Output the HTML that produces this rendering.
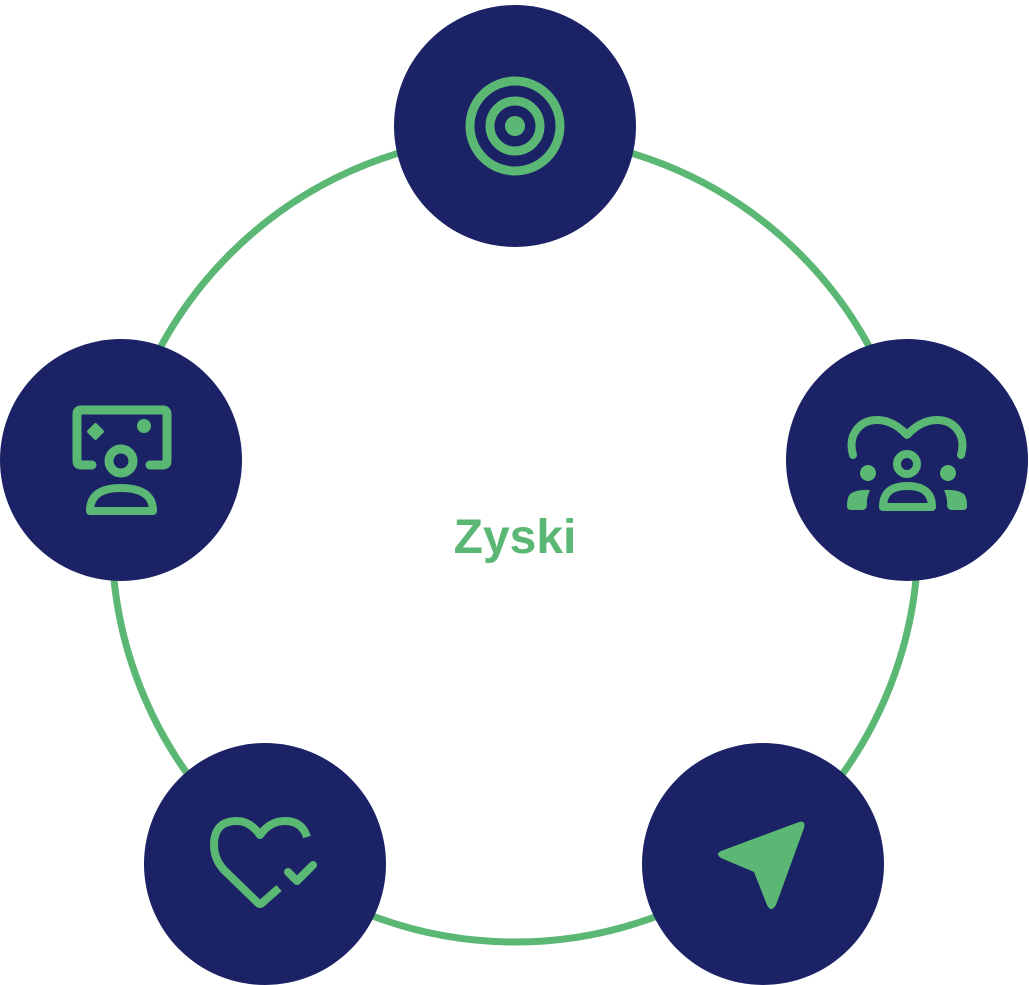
<!DOCTYPE html>
<html><head><meta charset="utf-8"><style>html,body{margin:0;padding:0;background:#fff;width:1029px;height:985px;overflow:hidden}</style></head>
<body>
<svg width="1029" height="985" viewBox="0 0 1029 985" xmlns="http://www.w3.org/2000/svg">
<circle cx="515" cy="539" r="403" fill="none" stroke="#5bb774" stroke-width="7"/>
<g fill="#1b2266">
<circle cx="515" cy="126" r="121"/>
<circle cx="907" cy="460" r="121"/>
<circle cx="763" cy="864" r="121"/>
<circle cx="265" cy="864" r="121"/>
<circle cx="121" cy="460" r="121"/>
</g>
<g fill="none" stroke="#5bb774" stroke-width="9" stroke-linecap="round" stroke-linejoin="round">
<circle cx="515" cy="126" r="45"/>
<circle cx="515" cy="126" r="25"/>
<path d="M92,465 L81,465 Q77,465 77,461 L77,414 Q77,410 81,410 L163,410 Q167,410 167,414 L167,461 Q167,465 163,465 L150,465"/>
<circle cx="121" cy="461" r="12"/>
<path d="M90,511 Q90,488 121,488 Q153,488 153,511 Z" stroke-width="8"/>
<path d="M853,455 Q850,445 853,436 Q860,420 877,420 Q893,420 907,435 Q921,420 937,420 Q954,420 961,436 Q964,445 961,455" stroke-width="8"/>
<circle cx="907" cy="464" r="10" stroke-width="8"/>
<path d="M883,507 Q883,486 907,486 Q932,486 932,507 Z" stroke-width="8"/>
<path d="M279,888 L262,903 Q260,905 258,903 L224,870 Q214,859 214,845 Q214,821 237,821 Q250,821 260,835 Q270,821 285,821 Q302,821 307,837" stroke-width="8" stroke-linecap="butt"/>
<path d="M288,872 L297,881 L313,865" stroke-width="8"/>
</g>
<g fill="#5bb774">
<circle cx="515" cy="126" r="10"/>
<rect x="89" y="425" width="13" height="13" transform="rotate(45 95.5 431.5)" rx="2"/>
<circle cx="144" cy="426" r="7"/>
<circle cx="868" cy="473" r="8"/>
<circle cx="948" cy="473" r="8"/>
<path d="M850,494 Q857,489 870,490 Q866,499 867,506 Q866,510 862,510 L851,510 Q847,510 847,506 Q847,498 850,494 Z"/>
<path d="M964,494 Q957,489 944,490 Q948,499 947,506 Q948,510 952,510 L963,510 Q967,510 967,506 Q967,498 964,494 Z"/>
<path d="M721,851 L799,822 Q806,820 804,828 L776,905 Q771,913 767,905 L754,872 L721,858 Q715,854 721,851 Z"/>
</g>
<text x="515" y="553" text-anchor="middle" font-family="'Liberation Sans', sans-serif" font-weight="bold" font-size="48" fill="#5bb774">Zyski</text>
</svg>
</body></html>
